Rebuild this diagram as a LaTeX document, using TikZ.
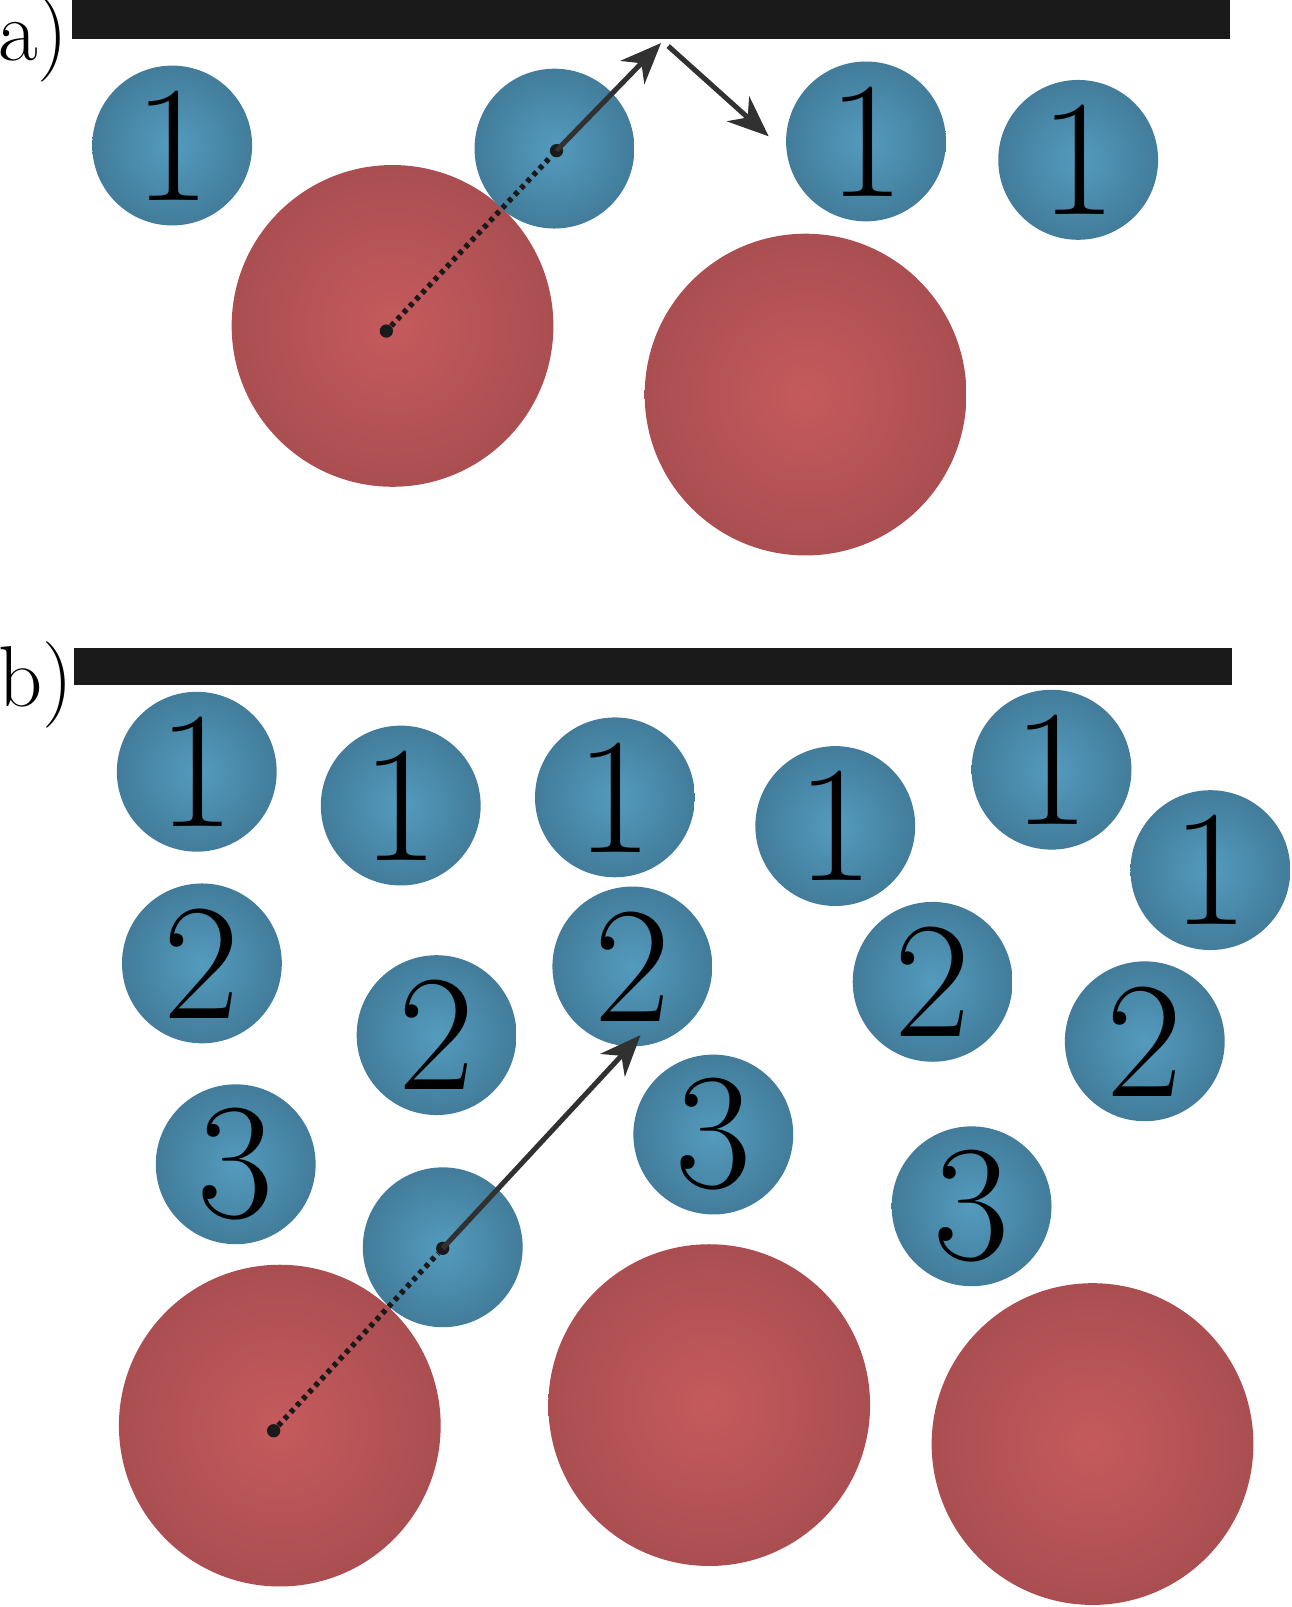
\documentclass[tikz,border=0pt]{standalone}
\usetikzlibrary{arrows.meta}
\definecolor{bl}{RGB}{84,155,190}
\definecolor{bld}{RGB}{66,124,154}
\definecolor{rd}{RGB}{197,90,92}
\definecolor{rdd}{RGB}{170,78,82}
\definecolor{bar}{RGB}{26,26,26}
\tikzset{
 small/.style={circle,minimum size=3.12cm,inner sep=0pt,shade,inner color=bl,outer color=bld,font=\fontsize{92}{92}\selectfont},
 big/.style={circle,minimum size=6.28cm,inner sep=0pt,shade,inner color=rd,outer color=rdd},
 barr/.style={fill=bar},
 arr/.style={line width=2.8pt,draw=bar!90,-{Stealth[length=0.8cm,width=0.65cm,inset=0.25cm]}},
 dots/.style={line width=3pt,draw=bar,dash pattern=on 2.5pt off 2.5pt},
 dotn/.style={circle,fill=bar,inner sep=0pt,minimum size=0.26cm},
 lab/.style={font=\fontsize{48}{48}\selectfont,anchor=west,inner sep=0pt}
}
\begin{document}
\begin{tikzpicture}[x=0.02cm,y=-0.02cm]
\useasboundingbox (0,0) rectangle (1260,1568);
% panel a
\fill[barr] (70,0) rectangle (1200,38);
\node[lab] (la) at (-2,38) {a)};
\node[big] (ra1) at (383,318) {};
\node[big] (ra2) at (786,385) {};
\node[small] (a1) at (168,142) {1};
\node[small] (a2) at (541,145) {};
\node[small] (a3) at (845,138) {1};
\node[small] (a4) at (1052,156) {1};
\node[dotn] (da) at (377,323) {};
\node[dotn] (ca) at (543,147) {};
\coordinate (hit) at (645,42);
\coordinate (hit2) at (652,45);
\coordinate (outa) at (750,133);
\draw[dots] (da) -- (ca);
\draw[arr] (ca.center) -- (hit);
\draw[arr] (hit2) -- (outa);
% panel b
\fill[barr] (72,632) rectangle (1202,668);
\node[lab] (lb) at (-2,668) {b)};
\node[big] (rb1) at (273,1391) {};
\node[big] (rb2) at (692,1371) {};
\node[big] (rb3) at (1066,1409) {};
\node[small] (b11) at (192,753) {1};
\node[small] (b12) at (391,786) {1};
\node[small] (b13) at (600,778) {1};
\node[small] (b14) at (815,806) {1};
\node[small] (b15) at (1026,751) {1};
\node[small] (b16) at (1181,849) {1};
\node[small] (b21) at (197,940) {2};
\node[small] (b22) at (426,1010) {2};
\node[small] (b23) at (617,943) {2};
\node[small] (b24) at (910,958) {2};
\node[small] (b25) at (1117,1016) {2};
\node[small] (b31) at (230,1136) {3};
\node[small] (b32) at (696,1107) {3};
\node[small] (b33) at (948,1177) {3};
\node[small] (b0) at (432,1217) {};
\node[dotn] (db) at (267,1396) {};
\node[dotn] (cb) at (432,1218) {};
\coordinate (tb) at (625,1010);
\draw[dots] (db) -- (cb);
\draw[arr] (cb.center) -- (tb);
\end{tikzpicture}
\end{document}
